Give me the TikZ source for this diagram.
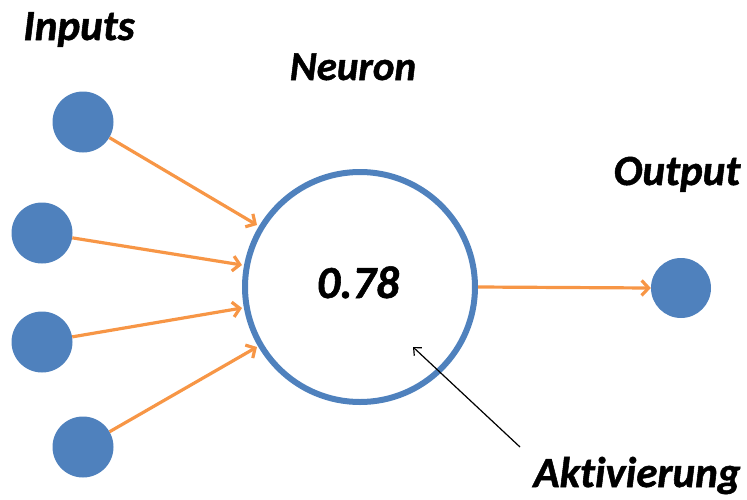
\documentclass[tikz,border=0pt]{standalone}
\usepackage{fontspec}
\setmainfont[Ligatures=NoCommon,BoldItalicFeatures={FakeBold=1.2}]{Carlito}
\usetikzlibrary{arrows.meta}
\definecolor{nblue}{HTML}{4F81BD}
\definecolor{norange}{HTML}{F79646}
\begin{document}
\begin{tikzpicture}[x=1pt,y=-1pt,
  dot/.style={circle,fill=nblue,inner sep=0pt,minimum size=61pt},
  link/.style={draw=norange,line width=3.2pt,-{Straight Barb[length=7pt,width=15pt,line width=3.2pt]}},
  label/.style={anchor=base,font=\fontsize{43}{43}\selectfont\bfseries\itshape}]
\useasboundingbox (0,0) rectangle (747,499);
% input units
\node[dot] (i1) at (83,122) {};
\node[dot] (i2) at (42,233) {};
\node[dot] (i3) at (42,342) {};
\node[dot] (i4) at (83,447) {};
% neuron and output unit
\node[circle,draw=nblue,line width=6pt,minimum size=230pt,inner sep=0pt] (n) at (360,287) {};
\node[dot,minimum size=60pt] (o) at (681,288) {};
% connection end points on the neuron rim
\coordinate (e1) at (257,225);
\coordinate (e2) at (242,265);
\coordinate (e3) at (242,308);
\coordinate (e4) at (257,347);
\draw[link] (i1) -- (e1);
\draw[link] (i2) -- (e2);
\draw[link] (i3) -- (e3);
\draw[link] (i4) -- (e4);
\draw[link] (n.east) -- (o.west);
% activation pointer
\coordinate (a0) at (520,447);
\coordinate (a1) at (413,347);
\draw[line width=1.2pt,-{Straight Barb[length=6pt,width=11pt,line width=1.2pt]}] (a0) -- (a1);
% labels
\node[label] (tin) at (79,40) {Inputs};
\node[label,font=\fontsize{41}{41}\selectfont\bfseries\itshape] (tne) at (353,80) {Neuron};
\node[label] (tou) at (677,185) {Output};
\node[label,font=\fontsize{46}{46}\selectfont\bfseries\itshape] (tval) at (358,298) {0.78};
\node[label] (tak) at (637,487) {Aktivierung};
\end{tikzpicture}
\end{document}
